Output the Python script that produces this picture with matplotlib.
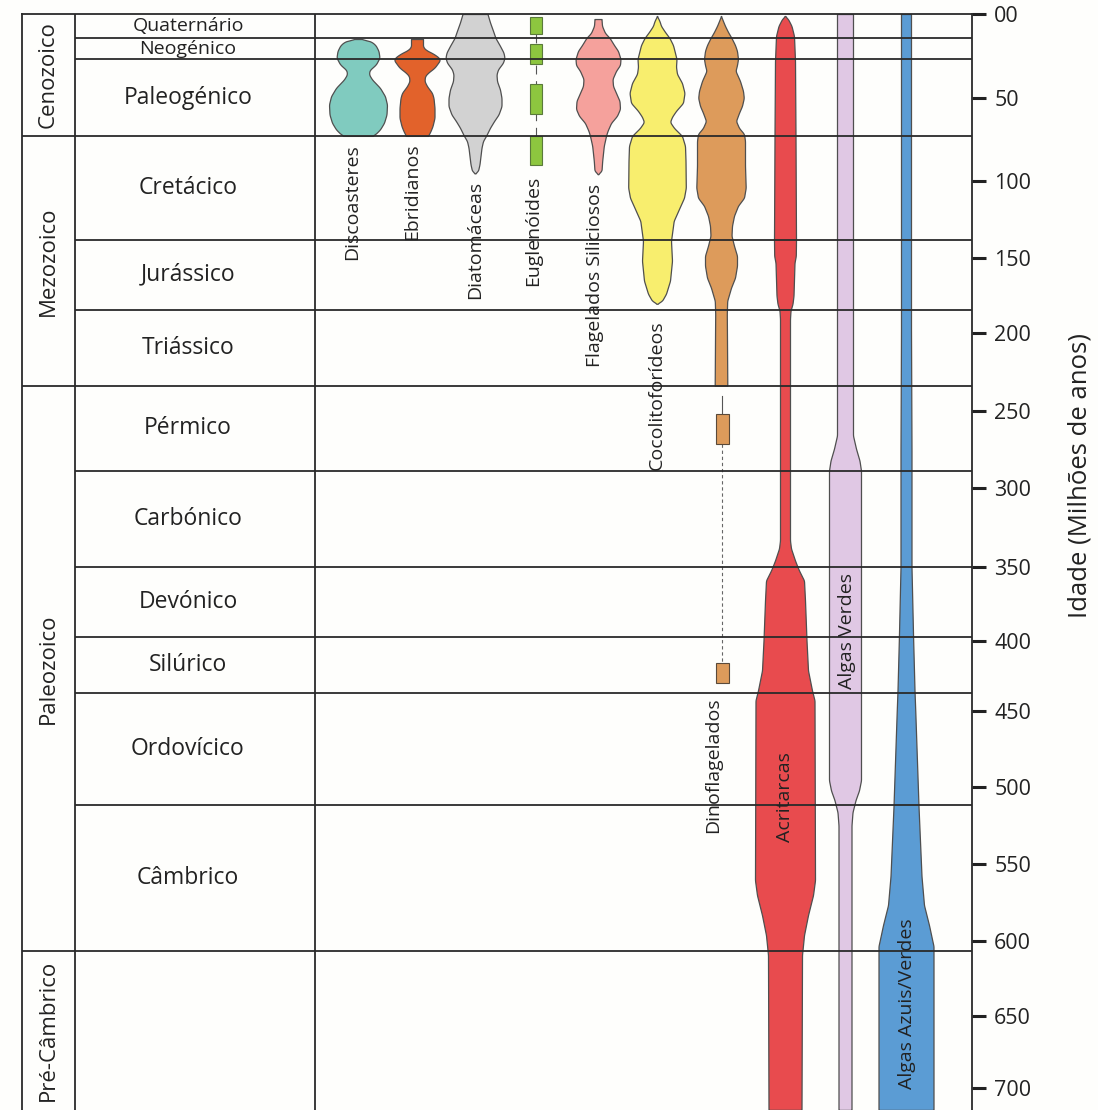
import numpy as np
import matplotlib
matplotlib.use('Agg')
import matplotlib.pyplot as plt

plt.rcParams['font.family'] = ['Open Sans', 'DejaVu Sans']

# eixo de idades (Ma)
idades_ticks = list(range(0, 701, 50))
rotulos_ticks = ['00'] + [str(v) for v in idades_ticks[1:]]
# onde cada marca do eixo foi desenhada no original (px a partir do topo) - eixo feito a mao
px_ticks = [13, 97, 180, 257, 332, 410, 487, 567, 641, 711, 787, 864, 941, 1016, 1088]

eras = ['Cenozoico', 'Mezozoico', 'Paleozoico', 'Pré-Câmbrico']
limites_eras = [0, 72.9, 234.3, 606.7, 715.3]

periodos = ['Quaternário', 'Neogénico', 'Paleogénico', 'Cretácico', 'Jurássico', 'Triássico',
            'Pérmico', 'Carbónico', 'Devónico', 'Silúrico', 'Ordovícico', 'Câmbrico']
limites_periodos = [0, 14.3, 27.0, 72.9, 138.3, 184.7, 234.3, 289.0, 350.0, 397.3, 436.8, 511.4, 606.7]

# perfis dos fusos: idade (Ma) e meia-largura (diversidade relativa)
discoasteres_idade = [14.9, 15.3, 16.3, 18.5, 22, 26, 30, 33.5, 36, 39, 44, 49, 54, 60, 65, 69, 72, 72.9]
discoasteres_largura = [0, 8, 13, 17.5, 20.5, 21.5, 18, 11.5, 11, 14, 22, 27, 29, 28.5, 26, 22, 17, 14]

ebridianos_idade = [14.9, 19.5, 21.5, 23.5, 26, 27.5, 30, 32, 35, 37, 40, 43, 47, 50, 56, 62, 67, 70, 72.9]
ebridianos_largura = [6, 6, 9, 16, 22, 23, 20, 17.5, 11, 8, 7.5, 10, 15, 16.5, 17.5, 17.5, 15.5, 13.5, 11]

diatomaceas_idade = [0, 5, 10, 14.3, 19, 23, 26, 29, 33, 36, 40, 45, 50, 55, 60, 64, 68, 72.9,
                     76, 80, 85, 90, 94, 95.5]
diatomaceas_largura = [12.5, 15, 18, 20.5, 25, 28.5, 29.5, 28, 23, 21.5, 22, 25, 26.5, 26.5, 23.5, 19, 15, 11,
                       8, 6.5, 5.5, 4.5, 3, 0]

euglenoides_inicio = [1.8, 17.9, 41.7, 72.9]
euglenoides_fim = [11.9, 29.8, 59.6, 90.7]

flagelados_idade = [3.0, 7.1, 11.3, 14.3, 18.5, 22.0, 26.8, 30.4, 33.9, 38.7, 42.9, 47.0, 51.8, 56.6,
                    60.8, 65.1, 69.9, 72.9, 78.9, 87.9, 94.0, 95.9]
flagelados_largura = [3.5, 4, 7, 11.7, 16, 20, 22.5, 22, 18, 14.5, 15, 18, 21.5, 22, 19, 13, 9.5, 8,
                      5.8, 4.2, 3.5, 0]

cocolitos_idade = [1.2, 4.2, 7.1, 10.7, 14.3, 18.5, 22.0, 26.8, 31.5, 35.7, 41.1, 47.0, 53.0, 57.8, 61.4,
                   64.5, 68.1, 72.9, 78.9, 87.9, 104.5, 111.0, 117.5, 126.0, 139.0, 152.0, 165.3, 174.0,
                   178.7, 180.7]
cocolitos_largura = [0, 2.5, 4, 8, 12.5, 16, 17.5, 19.5, 19, 20, 25, 27.5, 26, 19, 15, 13, 17, 25, 28,
                     28.5, 28.8, 27, 22.5, 16.7, 14, 15, 13, 9, 5, 0]

dinoflagelados_idade = [1.2, 4.2, 7.1, 10.7, 14.3, 18.5, 22.0, 26.8, 30.4, 33.9, 39.9, 45.8, 50.0, 54.8,
                        59.0, 63.9, 68.1, 71.7, 75.9, 90.9, 104.5, 111.0, 116.2, 122.7, 129.2, 135.7,
                        142.2, 148.7, 155.3, 163.3, 170.0, 178.7, 187.3, 234.0]
dinoflagelados_largura = [0, 2, 4, 7, 10.5, 14, 16, 17, 16, 14.5, 19, 22, 22.8, 21, 18, 15, 18, 23, 24,
                          24, 24.7, 23, 17, 13, 11, 10.5, 13, 16, 16, 14, 10, 6.2, 5.8, 6.3]
dinoflagelados_inicio = [251.9, 415.7]
dinoflagelados_fim = [271.4, 430.0]

acritarcas_idade = [1.2, 3.0, 7.1, 13.1, 28.0, 72.9, 139.0, 148.7, 153.3, 175.3, 180.7, 185.3, 190.7,
                    333.1, 338.1, 345.6, 352.0, 358.8, 372.3, 399.3, 420.7, 435.0, 442.1, 560.4, 570.1,
                    583.1, 596.1, 609.3, 715.3]
acritarcas_largura = [0, 3, 6.5, 9, 10, 10.5, 11, 10.8, 9.5, 8.5, 7.5, 5.5, 5, 5, 6, 10, 14, 19, 20,
                      21.5, 23, 27, 29.5, 30, 28, 23, 19, 17, 16.5]

algas_verdes_idade = [0, 266.2, 274.7, 282.5, 289.0, 495.4, 502.0, 508.4, 516.2, 524.7, 715.3]
algas_verdes_largura = [8, 8, 11, 14.5, 16, 16, 14, 10.5, 7.5, 6.5, 6.5]

algas_azuis_idade = [0, 198.7, 276.0, 350.0, 394.6, 435.0, 512.3, 557.8, 576.6, 589.6, 603.3, 715.3]
algas_azuis_largura = [5, 5, 5.5, 5.5, 7, 8.5, 12.5, 15.5, 18, 23, 27.5, 27.5]

fusos = [
    ('Discoasteres', discoasteres_idade, discoasteres_largura),
    ('Ebridianos', ebridianos_idade, ebridianos_largura),
    ('Diatomáceas', diatomaceas_idade, diatomaceas_largura),
    ('Flagelados Siliciosos', flagelados_idade, flagelados_largura),
    ('Cocolitoforídeos', cocolitos_idade, cocolitos_largura),
    ('Dinoflagelados', dinoflagelados_idade, dinoflagelados_largura),
    ('Acritarcas', acritarcas_idade, acritarcas_largura),
    ('Algas Verdes', algas_verdes_idade, algas_verdes_largura),
    ('Algas Azuis/Verdes', algas_azuis_idade, algas_azuis_largura),
]

cores = {'Discoasteres': '#80cbbf', 'Ebridianos': '#e2622b', 'Diatomáceas': '#d2d2d2',
         'Euglenóides': '#8dc63f', 'Flagelados Siliciosos': '#f5a19c', 'Cocolitoforídeos': '#f8ee6e',
         'Dinoflagelados': '#dd9b5b', 'Acritarcas': '#e84b4e', 'Algas Verdes': '#e0c8e4',
         'Algas Azuis/Verdes': '#5b9cd4'}

# layout (x em px da figura)
centro_x = {'Discoasteres': 358, 'Ebridianos': 417, 'Diatomáceas': 475, 'Euglenóides': 536,
            'Flagelados Siliciosos': 598, 'Cocolitoforídeos': 657, 'Dinoflagelados': 721,
            'Acritarcas': 785, 'Algas Verdes': 845, 'Algas Azuis/Verdes': 906}
rotulo_pos = {'Discoasteres': (352, 77.7), 'Ebridianos': (412, 77.7), 'Diatomáceas': (475, 100),
              'Euglenóides': (533, 97.1), 'Flagelados Siliciosos': (595, 102),
              'Cocolitoforídeos': (657, 192), 'Dinoflagelados': (713, 440), 'Acritarcas': (785, 477),
              'Algas Verdes': (847, 353.4), 'Algas Azuis/Verdes': (907, 585)}
x_esq, x_era, x_per, x_dir = 22, 75, 315, 972
cor_linha = '#2a2a2a'


def suavizar(idades, larguras, passo=0.25, janela=9):
    a = np.arange(idades[0], idades[-1] + passo / 2, passo)
    w = np.interp(a, idades, larguras)
    wp = np.pad(w, janela // 2, mode='edge')
    return a, np.convolve(wp, np.ones(janela) / janela, mode='valid')


idade_ext = [-50] + idades_ticks + [750]
px_ext = [13 - 84] + px_ticks + [1088 + 72]


def para_px(a):
    return np.interp(np.asarray(a, float), idade_ext, px_ext)


def para_idade(p):
    return np.interp(np.asarray(p, float), px_ext, idade_ext)


def meio(a, b):
    return float(para_idade((para_px(a) + para_px(b)) / 2))


fig = plt.figure(figsize=(10.98, 11.10), dpi=100)
fig.patch.set_facecolor('#fefefc')
ax = fig.add_axes([x_esq / 1098, 0, (x_dir - x_esq) / 1098, 1 - 14 / 1110])
ax.set_facecolor('#fefefc')
ax.set_yscale('function', functions=(para_px, para_idade))
ax.set_xlim(x_esq, x_dir)
ax.set_ylim(limites_eras[-1], 0)

for nome, idades, larguras in fusos:
    a, w = suavizar(idades, larguras)
    c = centro_x[nome]
    ax.fill_betweenx(a, c - w, c + w, facecolor=cores[nome], edgecolor='#4f4f4f', lw=0.9, zorder=2)

# euglenoides: ocorrencias isoladas
cx = centro_x['Euglenóides']
ax.plot([cx, cx], [euglenoides_fim[0], euglenoides_inicio[-1]], color='#555555', lw=0.8,
        ls=(0, (8, 6)), zorder=1.5)
ax.bar([cx] * 4, np.subtract(euglenoides_fim, euglenoides_inicio), bottom=euglenoides_inicio,
       width=12, color=cores['Euglenóides'], edgecolor='#5a7a3a', lw=0.8, zorder=2)

# dinoflagelados paleozoicos
cx = centro_x['Dinoflagelados'] + 1
ax.plot([cx, cx], [240.3, dinoflagelados_inicio[0]], color='#555555', lw=0.8, zorder=1.5)
ax.plot([cx, cx], [dinoflagelados_fim[0], dinoflagelados_inicio[1]], color='#666666', lw=0.8,
        ls=(0, (3, 2.5)), zorder=1.5)
ax.bar([cx] * 2, np.subtract(dinoflagelados_fim, dinoflagelados_inicio), bottom=dinoflagelados_inicio,
       width=13, color=cores['Dinoflagelados'], edgecolor='#5a4a3a', lw=0.8, zorder=2)

# grelha da escala do tempo
lim_so_periodos = [v for v in limites_periodos[1:] if v not in limites_eras]
ax.hlines(lim_so_periodos, x_era, x_dir, color=cor_linha, lw=1.3, zorder=3)
ax.hlines(limites_eras[1:-1], x_esq, x_dir, color=cor_linha, lw=1.3, zorder=3)
ax.vlines([x_era, x_per], 0, limites_eras[-1], color=cor_linha, lw=1.3, zorder=3)

for i, nome in enumerate(eras):
    ax.text((x_esq + x_era) / 2, meio(limites_eras[i], limites_eras[i + 1]), nome, rotation=90,
            ha='center', va='center', fontsize=16, color='#222222')

for i, nome in enumerate(periodos):
    tam = 14 if i < 2 else 16.5
    ax.text(188, meio(limites_periodos[i], limites_periodos[i + 1]), nome, ha='center', va='center',
            fontsize=tam, color='#222222')

for nome, (x, y) in rotulo_pos.items():
    ax.text(x, y, nome, rotation=90, ha='center', va='top', fontsize=14, color='#222222', zorder=4)

ax.set_xticks([])
ax.yaxis.tick_right()
ax.set_yticks(idades_ticks)
ax.set_yticklabels(rotulos_ticks)
ax.tick_params(axis='y', direction='out', length=10, width=2.2, pad=6, labelsize=15.5,
               color='#222222', labelcolor='#222222')
for lado in ['left', 'right', 'top']:
    ax.spines[lado].set_linewidth(1.3)
    ax.spines[lado].set_color(cor_linha)
ax.spines['bottom'].set_visible(False)

fig.text(1080 / 1098, 1 - 475 / 1110, 'Idade (Milhões de anos)', rotation=90, ha='center',
         va='center', fontsize=18.5, color='#222222')

fig.savefig('out.png', dpi=100, facecolor=fig.get_facecolor())
